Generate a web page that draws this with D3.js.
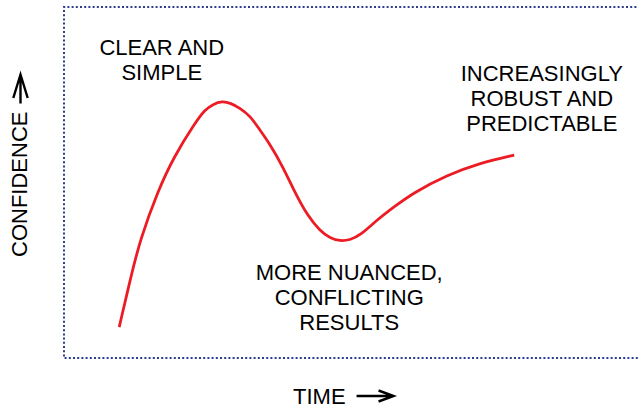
<!DOCTYPE html>
<html>
<head>
<meta charset="utf-8">
<script src="https://cdn.jsdelivr.net/npm/d3@7"></script>
<style>
  body { margin: 0; background: #fff; }
  svg text { font-family: "Liberation Sans", Arial, sans-serif; font-size: 22px; fill: #000; }
</style>
</head>
<body>
<svg id="chart" width="638" height="409"></svg>
<script>
// curve (time 0-100, confidence 0-100)
const timeVals = [9.6, 11.5, 13.2, 16.4, 19.1, 22.8, 24.5, 25.9, 27.5, 29.0, 30.6, 32.4, 33.7, 35.8, 38.1, 40.2, 42.3, 44.5, 46.3, 48.0, 49.7, 51.5, 54.4, 57.6, 60.7, 66.6, 72.4, 78.3];
const confVals = [8.8, 22.2, 33.6, 47.9, 57.3, 67.0, 70.7, 72.3, 73.2, 72.6, 71.2, 68.9, 65.8, 61.0, 54.4, 47.0, 40.7, 36.2, 34.1, 33.3, 33.6, 34.9, 39.3, 43.3, 47.0, 52.1, 55.6, 57.8];

// annotation labels: [time, confidence, lines]
const noteTime = [17.0, 83.1, 49.6];
const noteConf = [86.2, 78.9, 22.2];
const noteText = [
  ['CLEAR AND', 'SIMPLE'],
  ['INCREASINGLY', 'ROBUST AND', 'PREDICTABLE'],
  ['MORE NUANCED,', 'CONFLICTING', 'RESULTS']
];

const xTitle = 'TIME';
const yTitle = 'CONFIDENCE';

const svg = d3.select('#chart');
const margin = {top: 7, left: 64, bottom: 51, right: -1};
const W = 638, H = 409;

const x = d3.scaleLinear([0, 100], [margin.left, W - margin.right]);
const y = d3.scaleLinear([0, 100], [H - margin.bottom, margin.top]);

// dotted frame (right side runs off the page)
svg.append('path')
  .attr('d', `M${x(100) + 10},${y(100)}H${x(0)}V${y(0)}H${x(100) + 10}`)
  .attr('fill', 'none')
  .attr('stroke', '#2b3d8c')
  .attr('stroke-width', 2)
  .attr('stroke-dasharray', '2,2.2');

const data = timeVals.map((t, i) => ({t, c: confVals[i]}));

const line = d3.line()
  .x(d => x(d.t))
  .y(d => y(d.c))
  .curve(d3.curveBasis);

svg.append('path')
  .datum(data)
  .attr('d', line)
  .attr('fill', 'none')
  .attr('stroke', '#ed1c24')
  .attr('stroke-width', 2.8)
  .attr('stroke-linecap', 'butt');

// notes
const lineH = 25;
noteText.forEach((lines, i) => {
  const t = svg.append('text')
    .attr('text-anchor', 'middle')
    .attr('x', x(noteTime[i]))
    .attr('y', y(noteConf[i]));
  lines.forEach((s, j) => {
    t.append('tspan').attr('x', x(noteTime[i])).attr('dy', j ? lineH : 0).text(s);
  });
});

// axis titles with arrows
const xt = svg.append('text')
  .attr('x', 293).attr('y', 404)
  .text(xTitle);
const xEnd = 293 + xt.node().getComputedTextLength();
svg.append('path')
  .attr('d', `M${xEnd + 11},396H${xEnd + 48}M${xEnd + 33},390.5L${xEnd + 48},396L${xEnd + 33},401.5`)
  .attr('fill', 'none').attr('stroke', '#000').attr('stroke-width', 2.4);

const yt = svg.append('text')
  .attr('transform', 'translate(27,257) rotate(-90)')
  .text(yTitle);
const yEnd = 257 - yt.node().getComputedTextLength();
svg.append('path')
  .attr('d', `M20.5,${yEnd - 8}V74.5M13.3,98L20.5,74.5L27.7,98`)
  .attr('fill', 'none').attr('stroke', '#000').attr('stroke-width', 2.4);
</script>
</body>
</html>
